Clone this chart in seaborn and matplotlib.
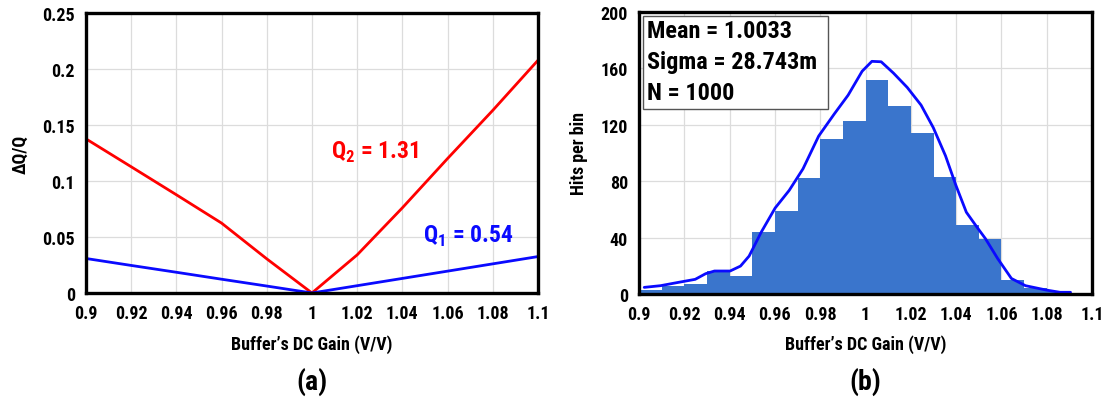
import numpy as np
import pandas as pd
import matplotlib
matplotlib.use("Agg")
import matplotlib.pyplot as plt
import seaborn as sns
from matplotlib.patches import Rectangle

# ---------------- data ----------------
gain_x = [0.90, 0.92, 0.94, 0.96, 0.98, 1.00, 1.02, 1.04, 1.06, 1.08, 1.10]
dq_q2 = [0.1376, 0.1127, 0.0877, 0.0624, 0.0305, 0.0, 0.0340, 0.0760, 0.1200, 0.1630, 0.2077]
dq_q1 = [0.0308, 0.0246, 0.0185, 0.0123, 0.0062, 0.0, 0.0065, 0.0130, 0.0195, 0.0260, 0.0325]

bin_left = [0.90, 0.91, 0.92, 0.93, 0.94, 0.95, 0.96, 0.97, 0.98, 0.99,
            1.00, 1.01, 1.02, 1.03, 1.04, 1.05, 1.06, 1.07, 1.08]
hits = [3, 6, 7, 16, 13, 44, 59, 82, 110, 123, 152, 133, 114, 83, 49, 39, 10, 4, 2]
bin_width = 0.01

fit_x = [0.9023, 0.9095, 0.9172, 0.9248, 0.9294, 0.9333, 0.9402, 0.9448, 0.9486, 0.954,
         0.9601, 0.9663, 0.9724, 0.9793, 0.9862, 0.9923, 0.9985, 1.0028, 1.0069, 1.0123,
         1.0184, 1.0245, 1.0299, 1.0353, 1.0399, 1.0445, 1.0491, 1.0529, 1.0583, 1.0644,
         1.0706, 1.0798, 1.0859, 1.0905]
fit_y = [4.7, 5.9, 8.2, 10.4, 14.4, 16.3, 16.3, 19.8, 26.9, 44,
         61, 73.5, 88.8, 112, 127.7, 141, 158, 165, 164.7, 156.7,
         146.5, 134, 118, 98, 77, 58, 47.6, 39.3, 25.2, 11,
         5.9, 2.8, 1.2, 1.2]

x_ticks = [0.9, 0.92, 0.94, 0.96, 0.98, 1.0, 1.02, 1.04, 1.06, 1.08, 1.1]
x_ticklabels = ["0.9", "0.92", "0.94", "0.96", "0.98", "1", "1.02", "1.04", "1.06", "1.08", "1.1"]
left_yticks = [0, 0.05, 0.1, 0.15, 0.2, 0.25]
left_yticklabels = ["0", "0.05", "0.1", "0.15", "0.2", "0.25"]
right_yticks = [0, 40, 80, 120, 160, 200]
stats_lines = ["Mean = 1.0033", "Sigma = 28.743m", "N = 1000"]

# ---------------- style ----------------
sns.set_theme(style="whitegrid")
plt.rcParams["font.family"] = ["Roboto Condensed", "DejaVu Sans"]
plt.rcParams["font.weight"] = "bold"
plt.rcParams["text.color"] = "black"
plt.rcParams["axes.labelcolor"] = "black"
plt.rcParams["xtick.color"] = "black"
plt.rcParams["ytick.color"] = "black"
plt.rcParams["mathtext.fontset"] = "custom"
plt.rcParams["mathtext.rm"] = "Roboto Condensed"
plt.rcParams["mathtext.bf"] = "Roboto Condensed:bold"

fig = plt.figure(figsize=(11.05, 4.06), dpi=100)
axL = fig.add_axes([0.0778, 0.2759, 0.4090, 0.6897])
axR = fig.add_axes([0.5783, 0.2734, 0.4100, 0.6946])

tick_fs = 13
lab_fs = 13
grid_kw = dict(color="#dcdcdc", linewidth=0.9)

# ---- left ----
dfL = pd.DataFrame({"x": gain_x + gain_x,
                    "y": dq_q2 + dq_q1,
                    "s": ["Q2"] * len(gain_x) + ["Q1"] * len(gain_x)})
sns.lineplot(data=dfL, x="x", y="y", hue="s", palette={"Q2": "#ff0000", "Q1": "#0a0aff"},
             linewidth=2.0, legend=False, ax=axL)
axL.set_xlim(0.9, 1.1)
axL.set_ylim(0, 0.25)
axL.set_xticks(x_ticks)
axL.set_xticklabels(x_ticklabels)
axL.set_yticks(left_yticks)
axL.set_yticklabels(left_yticklabels)
axL.set_ylabel("ΔQ/Q", fontsize=lab_fs, fontweight="bold")
axL.set_xlabel("Buffer’s DC Gain (V/V)", fontsize=lab_fs, fontweight="bold")
axL.yaxis.set_label_coords(-0.144, 0.5)
axL.xaxis.set_label_coords(0.5, -0.182)
axL.text(1.0083, 0.1265, r"Q$_\mathbf{2}$ = 1.31", color="#ff0000", fontsize=17,
         fontweight="bold", va="center", ha="left")
axL.text(1.049, 0.0515, r"Q$_\mathbf{1}$ = 0.54", color="#0a0aff", fontsize=17,
         fontweight="bold", va="center", ha="left")
axL.text(0.5, -0.314, "(a)", transform=axL.transAxes, ha="center", va="center",
         fontsize=20, fontweight="bold")

# ---- right ----
dfH = pd.DataFrame({"center": [b + bin_width / 2 for b in bin_left], "hits": hits})
edges = bin_left + [bin_left[-1] + bin_width]
sns.histplot(data=dfH, x="center", weights="hits", bins=edges, stat="count",
             color="#3a75cc", alpha=1.0, linewidth=0, ax=axR)
sns.lineplot(x=fit_x, y=fit_y, color="#0a0aff", linewidth=2.0, ax=axR)
axR.set_xlim(0.9, 1.1)
axR.set_ylim(0, 200)
axR.set_xticks(x_ticks)
axR.set_xticklabels(x_ticklabels)
axR.set_yticks(right_yticks)
axR.set_ylabel("Hits per bin", fontsize=lab_fs, fontweight="bold")
axR.set_xlabel("Buffer’s DC Gain (V/V)", fontsize=lab_fs, fontweight="bold")
axR.yaxis.set_label_coords(-0.132, 0.5)
axR.xaxis.set_label_coords(0.5, -0.177)
axR.text(0.5, -0.309, "(b)", transform=axR.transAxes, ha="center", va="center",
         fontsize=20, fontweight="bold")
axR.add_patch(Rectangle((0.0088, 0.656), 0.408, 0.331, transform=axR.transAxes,
                        facecolor="white", edgecolor="#555555", linewidth=1.0, zorder=5))
for yy, line in zip([0.933, 0.823, 0.716], stats_lines):
    axR.text(0.0177, yy, line, transform=axR.transAxes, ha="left", va="center",
             fontsize=17.5, fontweight="bold", zorder=6)

for ax in (axL, axR):
    ax.grid(True, **grid_kw)
    ax.set_axisbelow(True)
    ax.xaxis.label.set_va("center")
    ax.yaxis.label.set_va("center")
    for sp in ax.spines.values():
        sp.set_color("black")
        sp.set_linewidth(2.4)
        sp.set_visible(True)
    ax.tick_params(axis="both", labelsize=tick_fs, direction="in", length=4,
                   width=1.0, color="black", pad=8)
    for lab in ax.get_xticklabels() + ax.get_yticklabels():
        lab.set_fontweight("bold")

fig.savefig("out.png", dpi=100, facecolor="white")
